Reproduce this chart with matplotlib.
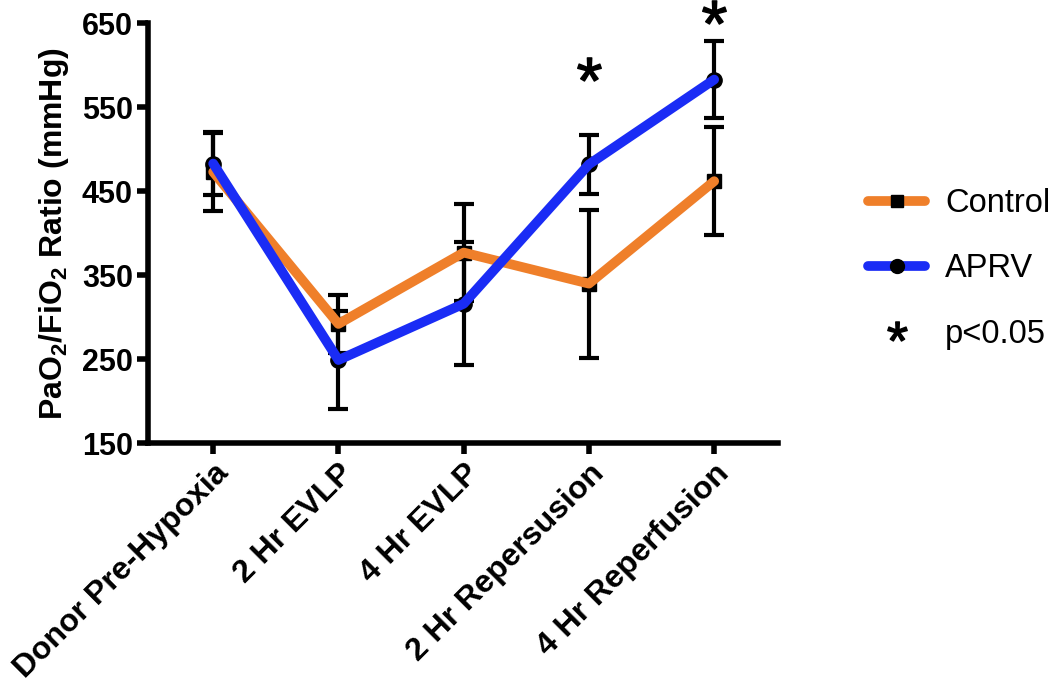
import matplotlib.pyplot as plt
from matplotlib.lines import Line2D

plt.rcParams['font.family'] = ['Liberation Sans', 'DejaVu Sans']
plt.rcParams['mathtext.fontset'] = 'custom'
plt.rcParams['mathtext.bf'] = 'Liberation Sans:bold'
plt.rcParams['mathtext.rm'] = 'Liberation Sans'

timepoints = ["Donor Pre-Hypoxia", "2 Hr EVLP", "4 Hr EVLP",
              "2 Hr Repersusion", "4 Hr Reperfusion"]
control_mean = [473, 292, 377, 340, 462]
control_sem = [46, 35, 58, 88, 64]
aprv_mean = [483, 249, 316, 482, 583]
aprv_sem = [37, 58, 73, 35, 46]
sig_idx = [3, 4]
sig_y = [596, 664]
yticks = [150, 250, 350, 450, 550, 650]

orange = '#EF7F2A'
blue = '#1A2CF5'

fig = plt.figure(figsize=(10.5, 6.86), dpi=100)
ax = fig.add_axes([0.141, 0.354, 0.600, 0.612])

x = list(range(len(timepoints)))

# error bars first, then the coloured lines, markers underneath the lines
ax.errorbar(x, control_mean, yerr=control_sem, fmt='none', ecolor='black',
            elinewidth=3, capsize=7, capthick=3, zorder=2)
ax.errorbar(x, aprv_mean, yerr=aprv_sem, fmt='none', ecolor='black',
            elinewidth=3, capsize=7, capthick=3, zorder=2)
ax.plot(x, control_mean, linestyle='none', marker='s', ms=10, color='black', zorder=3)
ax.plot(x, aprv_mean, linestyle='none', marker='o', ms=11, color='black', zorder=3)
ax.plot(x, control_mean, color=orange, lw=7, solid_capstyle='round', zorder=4)
ax.plot(x, aprv_mean, color=blue, lw=7, solid_capstyle='round', zorder=4)

# significance asterisks
ax.plot([x[i] for i in sig_idx], sig_y, linestyle='none', marker='$*$', ms=17,
        color='black', clip_on=False, zorder=5)

ax.set_xlim(-0.52, 4.51)
ax.set_ylim(150, 650)
ax.set_yticks(yticks)
ax.set_xticks(x)
ax.set_xticklabels(timepoints, rotation=45, ha='right', rotation_mode='anchor',
                   fontsize=23, fontweight='bold')
for lab in ax.get_yticklabels():
    lab.set_fontsize(22)
    lab.set_fontweight('bold')
ax.set_ylabel(r'PaO$_\mathbf{2}$/FiO$_\mathbf{2}$ Ratio (mmHg)', fontsize=23,
              fontweight='bold', labelpad=8)

for side in ['top', 'right']:
    ax.spines[side].set_visible(False)
for side in ['left', 'bottom']:
    ax.spines[side].set_linewidth(4)
ax.tick_params(width=4, length=8, pad=3)

handles = [
    Line2D([], [], color=orange, lw=7, marker='s', ms=9, mfc='black', mec='black',
           solid_capstyle='round'),
    Line2D([], [], color=blue, lw=7, marker='o', ms=10, mfc='black', mec='black',
           solid_capstyle='round'),
    Line2D([], [], linestyle='none', marker='$*$', ms=14, color='black'),
]
fig.legend(handles, ['Control', 'APRV', 'p<0.05'], loc='upper left',
           bbox_to_anchor=(0.827, 0.726), frameon=False, fontsize=23.5,
           handlelength=1.75, labelspacing=1.05, handletextpad=0.6, borderpad=0,
           borderaxespad=0)

fig.savefig('out.png', dpi=100)
